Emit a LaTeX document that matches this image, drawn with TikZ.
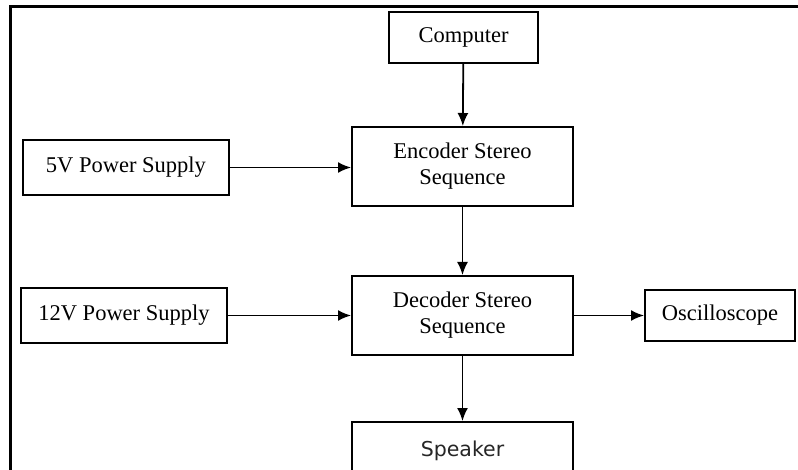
\documentclass[tikz,border=0pt]{standalone}
\usepackage{fontspec}
\setmainfont{Liberation Serif}
\newfontfamily\spkfont{DejaVu Sans}
\usetikzlibrary{arrows.meta}
\tikzset{
    bloc/.style={draw,line width=2pt,inner sep=0pt,align=center,
        font=\fontsize{22.5}{26}\selectfont},
    fleche/.style={line width=1.8pt,-{Latex[length=13pt,width=11pt]}}
}
\begin{document}
\begin{tikzpicture}[x=1pt,y=-1pt]
\useasboundingbox (0,0) rectangle (798,470);
\clip (0,0) rectangle (798,470);
% cadre
\draw[line width=3pt] (10,480) -- (10,6.5) -- (800,6.5);

% blocs
\node[bloc,minimum width=149,minimum height=51] (comp) at (463.5,37.5) {Computer};
\node[bloc,minimum width=221,minimum height=79] (enc) at (462.5,166.5) {Encoder Stereo\\Sequence};
\node[bloc,minimum width=206,minimum height=55] (ps5) at (126,167.5) {5V Power Supply};
\node[bloc,minimum width=221,minimum height=79] (dec) at (462.5,315.5) {Decoder Stereo\\Sequence};
\node[bloc,minimum width=206,minimum height=55] (ps12) at (124,315.5) {12V Power Supply};
\node[bloc,minimum width=150,minimum height=51] (osc) at (720,315.5) {Oscilloscope};
\node[bloc,minimum width=221,minimum height=60,anchor=north,
    font=\spkfont\fontsize{20.5}{24}\selectfont,text=black!85] (spk) at (462.5,421) {\raisebox{6pt}{Speaker}};

% liaisons
\draw[fleche] (comp) -- (enc);
\draw[fleche] (ps5) -- (ps5 -| enc.west);
\draw[fleche] (enc) -- (dec);
\draw[fleche] (ps12) -- (ps12 -| dec.west);
\draw[fleche] (dec) -- (osc);
\draw[fleche] (dec) -- (spk);
\end{tikzpicture}
\end{document}
